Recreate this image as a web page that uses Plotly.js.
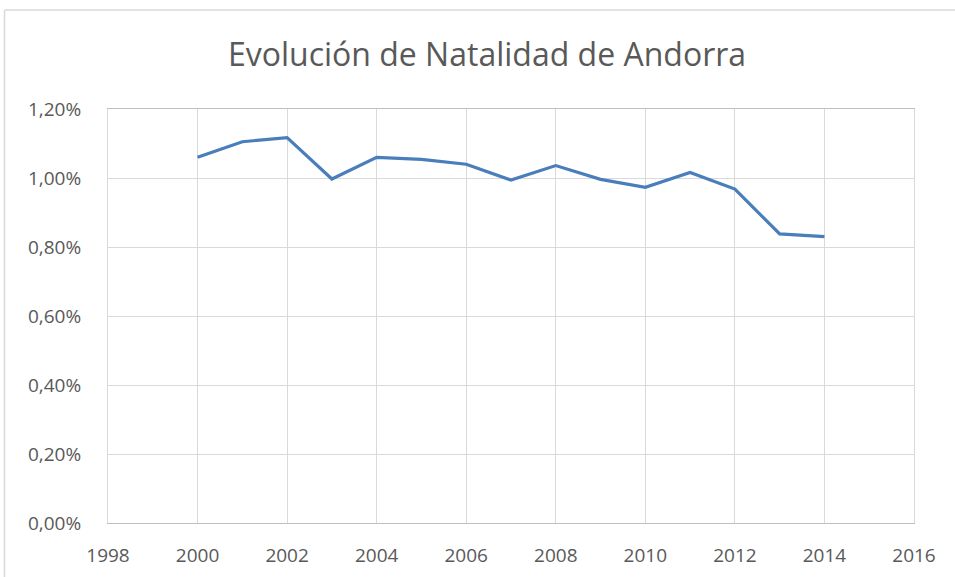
<!DOCTYPE html>
<html>
<head>
<meta charset="utf-8">
<script src="https://cdn.plot.ly/plotly-3.0.1.min.js"></script>
<style>html,body{margin:0;padding:0;background:#fff;}#chart{width:955px;height:577px;}</style>
</head>
<body>
<div id="chart"></div>
<script>
const years = [2000, 2001, 2002, 2003, 2004, 2005, 2006, 2007, 2008, 2009, 2010, 2011, 2012, 2013, 2014];
const natalidad = [0.01060, 0.01105, 0.01117, 0.00997, 0.01060, 0.01054, 0.01040, 0.00994, 0.01036, 0.00996, 0.00973, 0.01016, 0.00968, 0.00838, 0.00830];
const chartTitle = "Evolución de Natalidad de Andorra";

const plotLeft = 108, plotRight = 914, plotTop = 109, plotBottom = 523;
const W = 955, H = 577;
const pw = plotRight - plotLeft, ph = plotBottom - plotTop;
const fontFam = 'Open Sans, Noto Sans, sans-serif';

const trace = {
  x: years, y: natalidad, type: 'scatter', mode: 'lines',
  line: {color: '#4a7ebb', width: 3.2},
  hoverinfo: 'none'
};

const layout = {
  width: W, height: H,
  margin: {l: plotLeft, r: W - plotRight, t: plotTop, b: H - plotBottom, pad: 0},
  paper_bgcolor: '#ffffff', plot_bgcolor: '#ffffff',
  separators: ',.',
  showlegend: false,
  title: {text: chartTitle, font: {family: fontFam, size: 32, color: '#595959'},
          x: 487/W, xref: 'container', xanchor: 'center', y: 1 - 55/H, yref: 'container', yanchor: 'middle'},
  xaxis: {range: [1998, 2016], tickvals: [1998,2000,2002,2004,2006,2008,2010,2012,2014,2016],
          ticktext: ['1998','2000','2002','2004','2006','2008','2010','2012','2014','2016'],
          showgrid: true, gridcolor: '#d9d9d9', gridwidth: 1, zeroline: false,
          showline: true, linecolor: '#bfbfbf', linewidth: 1, mirror: true,
          ticks: 'outside', ticklen: 15, tickcolor: 'rgba(0,0,0,0)',
          tickfont: {family: fontFam, size: 19, color: '#595959'}, fixedrange: true},
  yaxis: {range: [0, 0.012], tickvals: [0, 0.002, 0.004, 0.006, 0.008, 0.010, 0.012], tickformat: '.2%',
          showgrid: true, gridcolor: '#d9d9d9', gridwidth: 1, zeroline: false,
          showline: true, linecolor: '#d9d9d9', linewidth: 1, mirror: true,
          ticks: 'outside', ticklen: 22, tickcolor: 'rgba(0,0,0,0)',
          tickfont: {family: fontFam, size: 19, color: '#595959'}, fixedrange: true},
  shapes: [
    {type: 'line', xref: 'paper', yref: 'paper', x0: (4.5 - plotLeft)/pw, x1: (W - plotLeft)/pw,
     y0: (plotBottom - 10)/ph, y1: (plotBottom - 10)/ph, line: {color: '#d9d9d9', width: 1.5}},
    {type: 'line', xref: 'paper', yref: 'paper', x0: (4.5 - plotLeft)/pw, x1: (4.5 - plotLeft)/pw,
     y0: (plotBottom - H)/ph, y1: (plotBottom - 10)/ph, line: {color: '#d9d9d9', width: 1.5}}
  ]
};

Plotly.newPlot('chart', [trace], layout, {displayModeBar: false, staticPlot: true});
</script>
</body>
</html>
